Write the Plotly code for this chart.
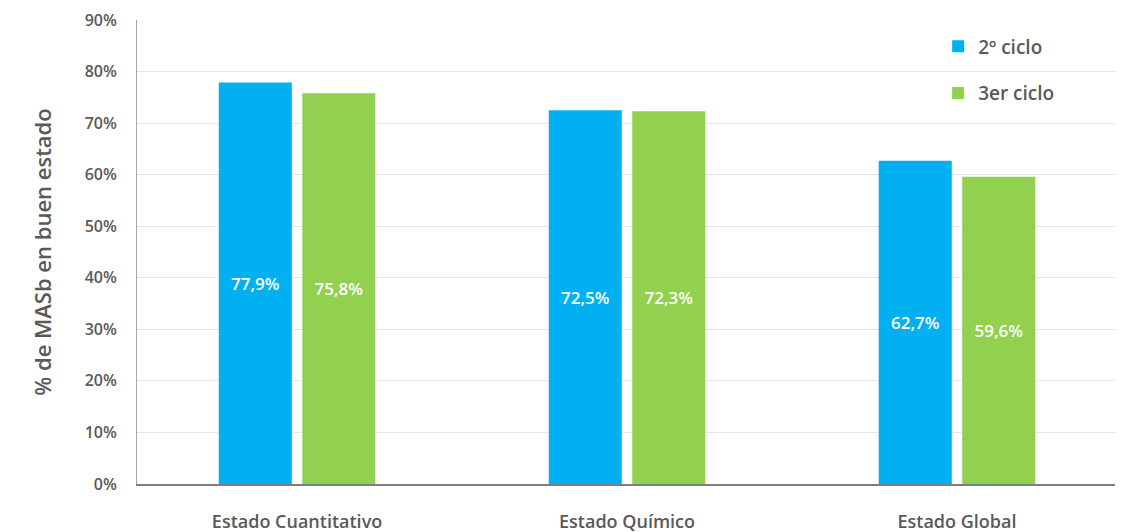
import plotly.graph_objects as go

categories = ["Estado Cuantitativo", "Estado Químico", "Estado Global"]
series_names = ["2º ciclo", "3er ciclo"]
ciclo2 = [77.9, 72.5, 62.7]
ciclo3 = [75.8, 72.3, 59.6]
colors = ["#00B0F0", "#92D050"]
tick_vals = [0, 10, 20, 30, 40, 50, 60, 70, 80, 90]
tick_text = [f"{v}%" for v in tick_vals]

def fmt(v):
    return f"{v:.1f}".replace(".", ",") + "%"

fig = go.Figure()
for name, vals, col in zip(series_names, [ciclo2, ciclo3], colors):
    fig.add_trace(go.Bar(
        x=categories, y=vals, name=name, legendgroup=name,
        marker=dict(color=col, line=dict(width=0)),
        text=[fmt(v) for v in vals], textposition="inside",
        insidetextanchor="middle",
        textfont=dict(color="white", size=17, family="Open Sans", weight=600),
    ))

fig.update_layout(
    width=1115, height=524,
    margin=dict(l=129, r=3, t=12, b=48),
    paper_bgcolor="white", plot_bgcolor="white",
    barmode="group", bargap=0.494, bargroupgap=0.125,
    font=dict(family="Open Sans", color="#595959"),
    showlegend=True,
    legend=dict(x=0.815, y=0.984, xanchor="left", yanchor="top",
                font=dict(size=19, color="#595959", weight=600),
                tracegroupgap=19, bgcolor="rgba(0,0,0,0)"),
    xaxis=dict(showgrid=False, showline=True, linecolor="#7f7f7f", linewidth=1.5,
               range=[-0.485, 2.494], automargin=False,
               ticks="", tickfont=dict(size=18, color="#595959", weight=600),
               ticklabelstandoff=21),
    yaxis=dict(range=[0, 90], tickvals=tick_vals, ticktext=tick_text,
               showgrid=True, gridcolor="#e6e6e6", gridwidth=1,
               showline=True, linecolor="#a6a6a6", linewidth=1, mirror=True,
               ticks="", tickfont=dict(size=16, color="#595959", weight=600),
               ticklabelstandoff=16, zeroline=False, automargin=False,
               title=dict(text="% de MASb en buen estado",
                          font=dict(size=22, color="#595959", weight=600), standoff=26)),
)

fig.write_html("out.html")
